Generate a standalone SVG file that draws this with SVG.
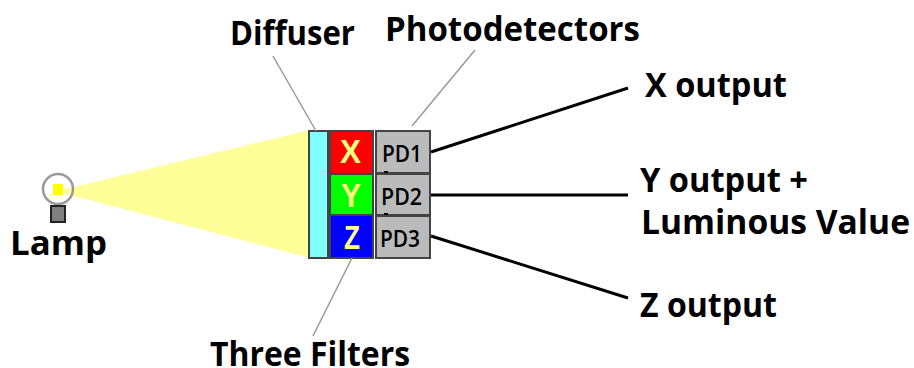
<svg xmlns="http://www.w3.org/2000/svg" width="914" height="368" viewBox="0 0 914 368">
<style>
.t{font-family:"Open Sans","DejaVu Sans",sans-serif;font-weight:700;fill:#000;font-size:34px}
.pd{font-family:"Open Sans","DejaVu Sans",sans-serif;font-weight:600;fill:#000;font-size:23px}
.f{font-family:"Liberation Sans",sans-serif;font-weight:700;fill:#ffff80;font-size:33px}
.lead{stroke:#999;stroke-width:1.5;fill:none}
.out{stroke:#000;stroke-width:3;fill:none}
.box{stroke:#444;stroke-width:2}
</style>
<g id="beam"><polygon points="63,189 74,187 310,130 310,258 74,196 63,193" fill="#ffff99"/></g>
<g id="lamp">
<circle cx="58" cy="189" r="15" fill="none" stroke="#999" stroke-width="2.5"/>
<rect x="53" y="184" width="10" height="11" fill="#ffff00"/>
<rect x="51" y="206" width="14" height="16" fill="#808080" stroke="#222" stroke-width="2"/>
<text class="t" x="10" y="255" textLength="97" lengthAdjust="spacingAndGlyphs">Lamp</text>
</g>
<g id="diffuser">
<rect x="309" y="131" width="19" height="127" fill="#80ffff" class="box"/>
<text class="t" x="230" y="45" textLength="125" lengthAdjust="spacingAndGlyphs">Diffuser</text>
</g>
<g id="filter-x"><rect x="330" y="131" width="43" height="43" fill="#ff0000" class="box"/><text class="f" x="340" y="163" textLength="21" lengthAdjust="spacingAndGlyphs">X</text></g>
<g id="filter-y"><rect x="330" y="174" width="43" height="41" fill="#00ff00" class="box"/><text class="f" x="341" y="207" textLength="20" lengthAdjust="spacingAndGlyphs">Y</text></g>
<g id="filter-z"><rect x="330" y="215" width="43" height="43" fill="#0000ff" class="box"/><text class="f" x="344" y="249" textLength="16" lengthAdjust="spacingAndGlyphs">Z</text></g>
<g id="pd1"><rect x="376" y="131" width="54" height="42" fill="#bbbbbb" class="box"/><rect x="384" y="171" width="4" height="3"/><text class="pd" x="382" y="162" textLength="40" lengthAdjust="spacingAndGlyphs">PD1</text></g>
<g id="pd2"><rect x="376" y="174" width="54" height="41" fill="#bbbbbb" class="box"/><rect x="384" y="213" width="4" height="3"/><text class="pd" x="381" y="205" textLength="41" lengthAdjust="spacingAndGlyphs">PD2</text></g>
<g id="pd3"><rect x="376" y="216" width="54" height="42" fill="#bbbbbb" class="box"/><text class="pd" x="380" y="247" textLength="40" lengthAdjust="spacingAndGlyphs">PD3</text></g>
<g id="labels">
<text class="t" x="385" y="41" textLength="255" lengthAdjust="spacingAndGlyphs">Photodetectors</text>
<text class="t" x="645" y="97" textLength="142" lengthAdjust="spacingAndGlyphs">X output</text>
<text class="t" x="640" y="192" textLength="168" lengthAdjust="spacingAndGlyphs">Y output +</text>
<text class="t" x="641" y="234" textLength="269" lengthAdjust="spacingAndGlyphs">Luminous Value</text>
<text class="t" x="640" y="317" textLength="137" lengthAdjust="spacingAndGlyphs">Z output</text>
<text class="t" x="210" y="366" textLength="200" lengthAdjust="spacingAndGlyphs">Three Filters</text>
</g>
<g id="connectors">
<line class="lead" x1="273" y1="56" x2="316" y2="131"/>
<line class="lead" x1="475" y1="50" x2="412" y2="126"/>
<line class="lead" x1="352" y1="258" x2="313" y2="336"/>
<line class="out" x1="431" y1="152" x2="628" y2="88"/>
<line class="out" x1="431" y1="195" x2="628" y2="195"/>
<line class="out" x1="431" y1="236" x2="628" y2="298"/>
</g>
</svg>
